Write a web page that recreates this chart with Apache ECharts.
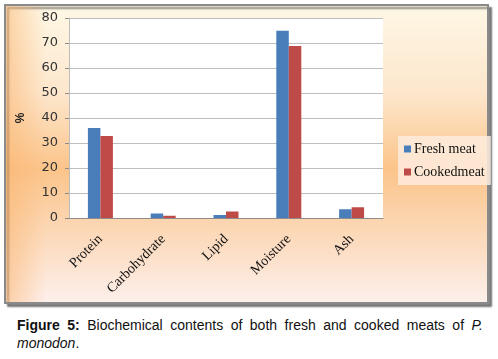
<!DOCTYPE html>
<html>
<head>
<meta charset="utf-8">
<script src="https://cdn.jsdelivr.net/npm/echarts@6/dist/echarts.min.js"></script>
<style>
  body { margin: 0; background: #fff; }
  #chart { width: 498px; height: 312px; }
  #caption {
    position: absolute; left: 17px; top: 316px; width: 466px;
    font-family: "Liberation Sans", Arial, sans-serif; font-size: 14px;
    line-height: 18px; color: #111; text-align: justify;
  }
</style>
</head>
<body>
<div id="chart"></div>
<div id="caption"><b>Figure 5:</b> Biochemical contents of both fresh and cooked meats of <i>P. monodon</i>.</div>
<script>
const categories = ['Protein', 'Carbohydrate', 'Lipid', 'Moisture', 'Ash'];
const freshMeat = [36, 1.8, 1.2, 74.9, 3.5];
const cookedMeat = [32.8, 0.9, 2.6, 68.8, 4.3];
const yTicks = [0, 80, 10];

const chart = echarts.init(document.getElementById('chart'));

const option = {
    animation: false,
    graphic: [
        {
            type: 'rect',
            z: -10,
            shape: { x: 5, y: 5, width: 483, height: 298 },
            style: {
                fill: new echarts.graphic.LinearGradient(0, 0, 0, 1, [
                    { offset: 0, color: '#fef8e6' },
                    { offset: 0.3, color: '#fde6cc' },
                    { offset: 0.55, color: '#fbc48a' },
                    { offset: 0.8, color: '#fcdcc0' },
                    { offset: 1, color: '#fdf0ec' }
                ]),
                stroke: '#8a8a8a',
                lineWidth: 2,
                shadowColor: 'rgba(0,0,0,0.45)',
                shadowOffsetX: 3,
                shadowOffsetY: 3,
                shadowBlur: 2
            }
        },
        {
            type: 'rect',
            z: -9,
            shape: { x: 6, y: 6, width: 40, height: 296 },
            style: {
                fill: new echarts.graphic.LinearGradient(0, 0, 1, 0, [
                    { offset: 0, color: 'rgba(250,180,110,0.55)' },
                    { offset: 1, color: 'rgba(250,180,110,0)' }
                ])
            }
        }
    ],
    grid: {
        left: 69,
        top: 18,
        width: 314,
        height: 200,
        show: true,
        backgroundColor: '#fff',
        borderWidth: 0
    },
    legend: {
        orient: 'vertical',
        left: 398,
        top: 136,
        icon: 'rect',
        itemWidth: 7,
        itemHeight: 7,
        itemGap: 9,
        padding: [6, 6, 6, 6],
        backgroundColor: 'rgba(253,236,222,0.85)',
        textStyle: {
            fontFamily: 'Liberation Serif',
            fontSize: 14,
            color: '#111',
            padding: [0, 0, 0, -2]
        },
        data: ['Fresh meat', 'Cookedmeat']
    },
    xAxis: {
        type: 'category',
        data: categories,
        axisLine: { lineStyle: { color: '#8c8c8c' } },
        axisTick: { show: false },
        axisLabel: {
            interval: 0,
            rotate: 45,
            margin: 19,
            fontFamily: 'Liberation Serif',
            fontSize: 14,
            color: '#111'
        }
    },
    yAxis: {
        type: 'value',
        min: yTicks[0],
        max: yTicks[1],
        interval: yTicks[2],
        name: '%',
        nameLocation: 'middle',
        nameGap: 42,
        nameRotate: 90,
        nameTextStyle: {
            fontFamily: 'Liberation Sans',
            fontSize: 12,
            fontWeight: 'bold',
            color: '#222'
        },
        axisLine: { show: true, lineStyle: { color: '#bdbdbd' } },
        axisTick: { show: true, length: 4, lineStyle: { color: '#8c8c8c' } },
        axisLabel: {
            margin: 11,
            fontFamily: 'DejaVu Sans',
            fontSize: 13,
            color: '#333'
        },
        splitLine: { lineStyle: { color: '#bdbdbd', width: 1 } }
    },
    series: [
        {
            name: 'Fresh meat',
            type: 'bar',
            data: freshMeat,
            barWidth: 12.5,
            barGap: '0%',
            itemStyle: { color: '#4a7ebb' }
        },
        {
            name: 'Cookedmeat',
            type: 'bar',
            data: cookedMeat,
            barWidth: 12.5,
            barGap: '0%',
            itemStyle: { color: '#be4b48' }
        }
    ]
};

chart.setOption(option);
</script>
</body>
</html>
